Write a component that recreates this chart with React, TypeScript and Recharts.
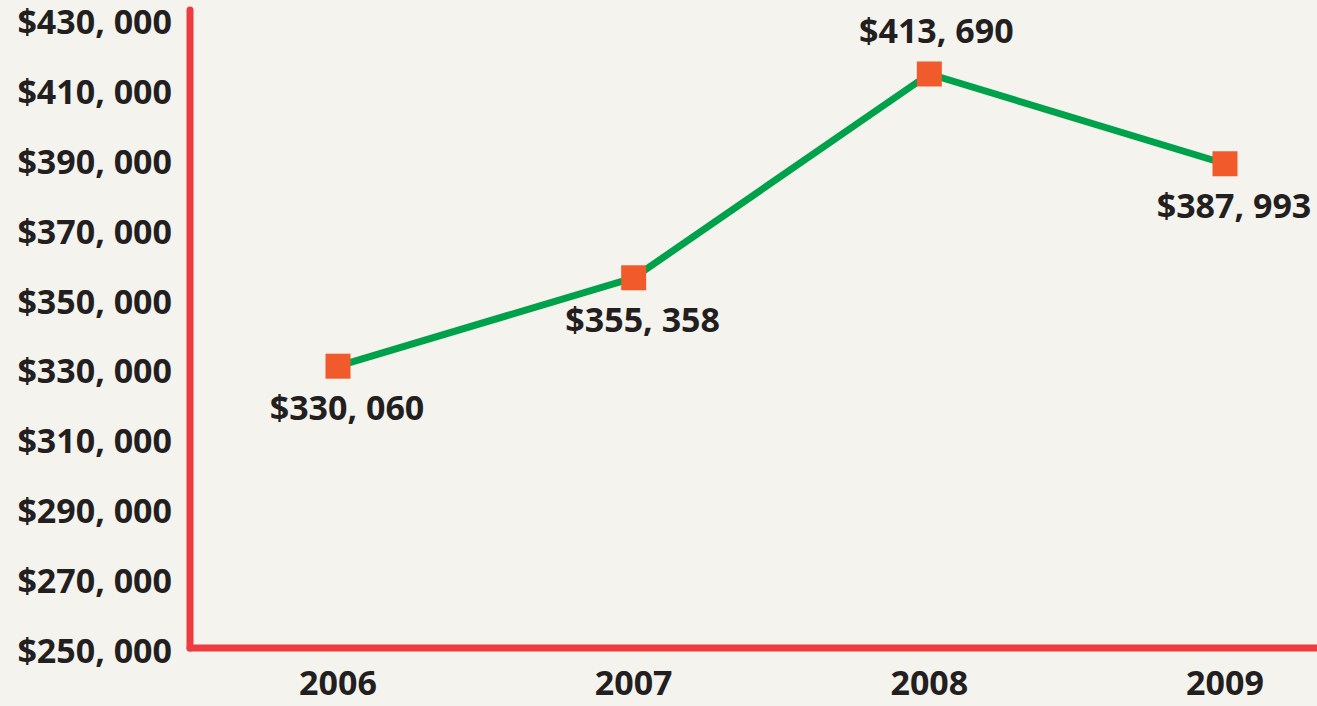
import { LineChart, Line, XAxis, YAxis } from "recharts";

const years = ["2006", "2007", "2008", "2009"];
const prices = [330060, 355358, 413690, 387993];
const yTicks = [250000, 270000, 290000, 310000, 330000, 350000, 370000, 390000, 410000, 430000];

const data = years.map((year, i) => ({ year, price: prices[i] }));

const BG = "#f4f3ee";
const RED = "#ee3b3f";
const GREEN = "#00a14b";
const ORANGE = "#f15a2b";
const INK = "#231f20";
const FONT = "'Open Sans', sans-serif";
const FS = 34;

const money = (v: number) => "$" + v.toLocaleString("en-US").replace(/,/g, ", ");

const YTick = (props: any) => {
  const { x, y, payload } = props;
  return (
    <text x={x} y={y} dy={17} textAnchor="end" fill={INK} fontFamily={FONT} fontWeight={700} fontSize={FS}>
      {money(payload.value)}
    </text>
  );
};

const XTick = (props: any) => {
  const { x, y, payload } = props;
  return (
    <text x={x} y={y} dy={19} textAnchor="middle" fill={INK} fontFamily={FONT} fontWeight={700} fontSize={FS}>
      {payload.value}
    </text>
  );
};

const Square = (props: any) => {
  const { cx, cy } = props;
  return <rect x={cx - 12.5} y={cy - 12.5} width={25} height={25} fill={ORANGE} />;
};

const maxPrice = Math.max(...prices);

const PriceLabel = (props: any) => {
  const { x, y, value } = props;
  const above = value === maxPrice;
  return (
    <text
      x={x + (above ? 7 : 9)}
      y={y + (above ? -31 : 54)}
      textAnchor="middle"
      fill={INK}
      fontFamily={FONT}
      fontWeight={700}
      fontSize={FS}
    >
      {money(value)}
    </text>
  );
};

export default function App() {
  return (
    <div style={{ position: "fixed", inset: 0, background: BG }}>
      <LineChart width={1317} height={706} data={data} margin={{ top: 10, right: 0, bottom: 0, left: 0 }}>
        <XAxis
          dataKey="year"
          height={58}
          padding={{ left: 148, right: 92 }}
          axisLine={{ stroke: RED, strokeWidth: 7, strokeLinecap: "round" }}
          tickLine={false}
          tickSize={0}
          tickMargin={28}
          tick={<XTick />}
        />
        <YAxis
          width={190}
          domain={[249400, 432000]}
          ticks={yTicks}
          allowDataOverflow
          axisLine={{ stroke: RED, strokeWidth: 7, strokeLinecap: "round" }}
          tickLine={false}
          tickSize={0}
          tickMargin={18}
          tick={<YTick />}
          interval={0}
        />
        <Line
          type="linear"
          dataKey="price"
          stroke={GREEN}
          strokeWidth={7}
          dot={<Square />}
          activeDot={false}
          label={<PriceLabel />}
          isAnimationActive={false}
        />
      </LineChart>
    </div>
  );
}
